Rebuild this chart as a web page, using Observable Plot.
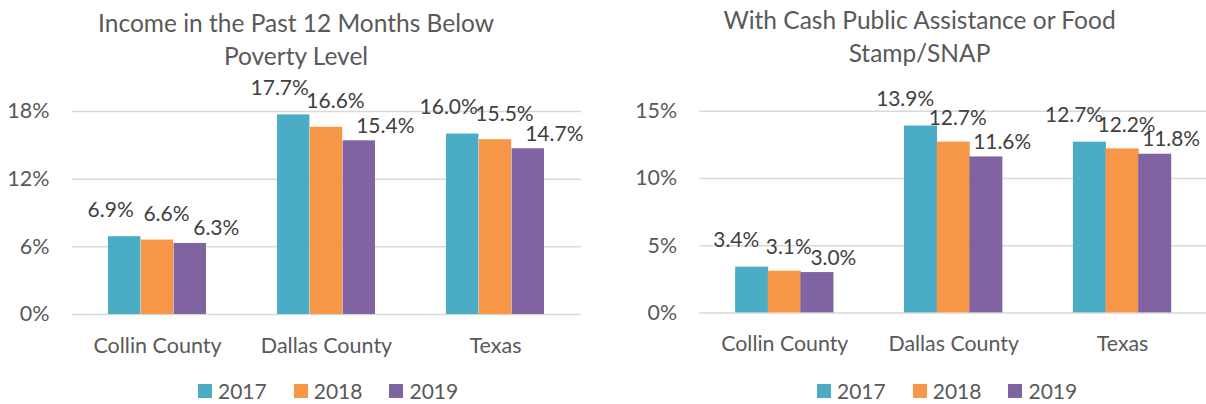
<!DOCTYPE html>
<html>
<head>
<meta charset="utf-8">
<script src="https://cdn.jsdelivr.net/npm/d3@7"></script>
<script src="https://cdn.jsdelivr.net/npm/@observablehq/plot@0.6"></script>
<style>
  html, body { margin: 0; padding: 0; background: #fff; }
  body { width: 1206px; height: 404px; overflow: hidden; position: relative; font-family: Lato, "Open Sans", sans-serif; }
  .title { position: absolute; width: 600px; text-align: center; font-size: 24.5px; line-height: 33px; color: #595959; }
  .chart { position: absolute; top: 70px; }
  .legend { position: absolute; top: 379px; display: flex; align-items: center; font-size: 21px; line-height: 24px; color: #595959; white-space: nowrap; }
  .legend .item { display: flex; align-items: center; margin-right: 27px; }
  .legend .sw { width: 14px; height: 14px; margin-right: 6px; }
</style>
</head>
<body>
<div class="title" id="titleL"></div>
<div class="title" id="titleR"></div>
<div class="chart" id="chartL" style="left:0px"></div>
<div class="chart" id="chartR" style="left:603px"></div>
<div class="legend" id="legendL" style="left:198px"></div>
<div class="legend" id="legendR" style="left:817px"></div>
<script>
// ---- data ----
const counties = ["Collin County", "Dallas County", "Texas"];
const years = ["2017", "2018", "2019"];
const povertyTitle = ["Income in the Past 12 Months Below", "Poverty Level"];
const poverty2017 = [6.9, 17.7, 16.0];
const poverty2018 = [6.6, 16.6, 15.5];
const poverty2019 = [6.3, 15.4, 14.7];
const povertyTicks = [0, 6, 12, 18];
const snapTitle = ["With Cash Public Assistance or Food", "Stamp/SNAP"];
const snap2017 = [3.4, 13.9, 12.7];
const snap2018 = [3.1, 12.7, 12.2];
const snap2019 = [3.0, 11.6, 11.8];
const snapTicks = [0, 5, 10, 15];

// ---- style ----
const colors = ["#4BACC6", "#F79646", "#8064A2"];

function buildChart(series, yTicks, opts) {
  const {width, marginLeft, marginRight, labelDx, labelRise} = opts;
  const pi = 0.42, po = 0.21;
  const plotW = width - marginLeft - marginRight;
  const step = plotW / (counties.length - pi + 2 * po);
  const bw = step * (1 - pi);
  const w = bw / 3;
  const marks = [Plot.ruleY(yTicks, {stroke: "#d9d9d9", strokeWidth: 1.5})];
  const rowsByYear = years.map((yr, j) => counties.map((c, i) => ({county: c, year: yr, value: series[j][i]})));
  rowsByYear.forEach((rows, j) => {
    marks.push(Plot.barY(rows, {x: "county", y: "value", fill: colors[j], insetLeft: j * w, insetRight: (2 - j) * w}));
  });
  rowsByYear.forEach((rows, j) => {
    marks.push(Plot.text(rows, {
      x: "county", y: "value", text: d => d.value.toFixed(1) + "%",
      dx: (j - 1) * w + labelDx[j], dy: -labelRise[j], lineAnchor: "bottom",
      fill: "#404040", fontSize: 21
    }));
  });
  return Plot.plot({
    width, height: 294, marginTop: 41, marginBottom: 50, marginLeft, marginRight,
    style: {fontFamily: "Lato, 'Open Sans', sans-serif", fontSize: "21.5px", color: "#595959", background: "transparent", overflow: "visible"},
    x: {domain: counties, paddingInner: pi, paddingOuter: po, tickSize: 0, tickPadding: 23, label: null},
    y: {domain: [0, yTicks[yTicks.length - 1]], ticks: yTicks, tickFormat: d => d + "%", tickSize: 0, tickPadding: 23, label: null},
    marks
  });
}

function setTitle(id, lines, center, top) {
  const el = document.getElementById(id);
  el.style.left = (center - 300) + "px";
  el.style.top = top + "px";
  lines.forEach((t, k) => {
    if (k) el.appendChild(document.createElement("br"));
    el.appendChild(document.createTextNode(t));
  });
}

function setLegend(id) {
  const el = document.getElementById(id);
  years.forEach((yr, j) => {
    const item = document.createElement("div");
    item.className = "item";
    const sw = document.createElement("span");
    sw.className = "sw";
    sw.style.background = colors[j];
    const tx = document.createElement("span");
    tx.textContent = yr;
    item.appendChild(sw);
    item.appendChild(tx);
    el.appendChild(item);
  });
}

setTitle("titleL", povertyTitle, 296, 6);
setTitle("titleR", snapTitle, 919.5, 3);

document.getElementById("chartL").appendChild(
  buildChart([poverty2017, poverty2018, poverty2019], povertyTicks,
    {width: 603, marginLeft: 72, marginRight: 22, labelDx: [-14, 9, 26], labelRise: [20, 19, 8]}));
document.getElementById("chartR").appendChild(
  buildChart([snap2017, snap2018, snap2019], snapTicks,
    {width: 607, marginLeft: 97, marginRight: 0, labelDx: [-16, 4, 16], labelRise: [20, 17, 8]}));

setLegend("legendL");
setLegend("legendR");
</script>
</body>
</html>
